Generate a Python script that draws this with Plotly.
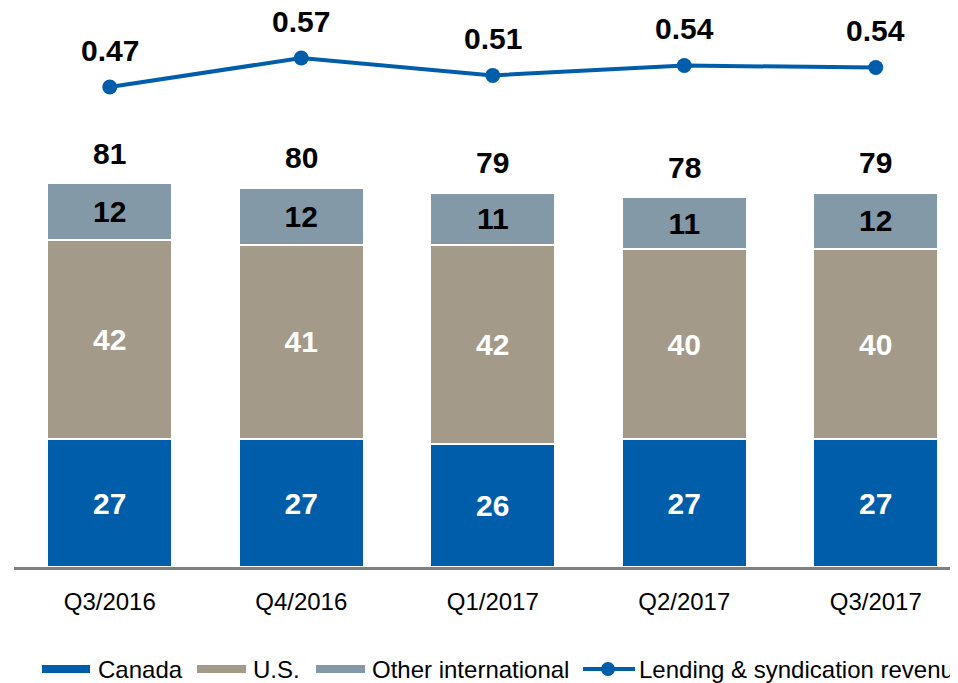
import plotly.graph_objects as go

categories = ["Q3/2016", "Q4/2016", "Q1/2017", "Q2/2017", "Q3/2017"]
canada = [27, 27, 26, 27, 27]
us = [42, 41, 42, 40, 40]
other_intl = [12, 12, 11, 11, 12]
totals = [81, 80, 79, 78, 79]
lending_rev = [0.47, 0.57, 0.51, 0.544, 0.537]

C_CAN = "#005DAA"
C_US = "#A39A89"
C_OTH = "#8499A7"
FONT = "Liberation Sans, Arial, sans-serif"

OFF = 8  # page body margin
W, H = 958 - OFF, 683 - OFF
ML, MR, MT, MB = 14 - OFF, 0, 0, 116
PW, PH = W - ML - MR, H - MT - MB
SPACING = 191.5
xr = [-0.5, -0.5 + PW / SPACING]
yr = [0, PH / 4.74]
y2_top = 0.57 + (58 - OFF) / 290
y2r = [y2_top - PH / 290, y2_top]

fig = go.Figure()

def bar(name, vals, color, tcolor):
    fig.add_trace(go.Bar(
        x=categories, y=vals, name=name,
        marker=dict(color=color, line=dict(color="white", width=2)),
        width=0.655,
        text=[str(v) for v in vals], textposition="inside",
        insidetextanchor="middle", constraintext="none",
        textfont=dict(family=FONT, size=30, color=tcolor, weight="bold"),
        showlegend=False,
    ))

bar("Canada", canada, C_CAN, "white")
bar("U.S.", us, C_US, "white")
bar("Other international", other_intl, C_OTH, "black")

fig.add_trace(go.Scatter(
    x=categories, y=lending_rev, yaxis="y2", mode="lines+markers",
    line=dict(color=C_CAN, width=4), marker=dict(color=C_CAN, size=15),
    name="Lending & syndication revenue", showlegend=False,
))

anns = []
for c, t in zip(categories, totals):
    anns.append(dict(x=c, y=t, xref="x", yref="y", text=f"<b>{t}</b>",
                     showarrow=False, yshift=30, yanchor="middle",
                     font=dict(family=FONT, size=30, color="black")))
for c, v in zip(categories, lending_rev):
    anns.append(dict(x=c, y=v, xref="x", yref="y2", text=f"<b>{v:.2f}</b>",
                     showarrow=False, yshift=37, yanchor="middle",
                     font=dict(family=FONT, size=30, color="black")))

# manual legend (reference pixel -> paper)
def px(x):
    return (x - OFF - ML) / PW

def py(y):
    return (H - MB - (y - OFF)) / PH

shapes = []
leg_y = 669
LEG_FS = 24
items = [("Canada", C_CAN, 42, 90, 96), ("U.S.", C_US, 197, 246, 251),
         ("Other international", C_OTH, 316, 365, 370)]
for name, col, x0, x1, tx in items:
    shapes.append(dict(type="rect", xref="paper", yref="paper",
                       x0=px(x0), x1=px(x1), y0=py(leg_y + 4), y1=py(leg_y - 4),
                       fillcolor=col, line=dict(width=0)))
    anns.append(dict(x=px(tx), y=py(leg_y), xref="paper", yref="paper", text=name,
                     showarrow=False, xanchor="left", yanchor="middle",
                     font=dict(family=FONT, size=LEG_FS, color="black")))
shapes.append(dict(type="line", xref="paper", yref="paper",
                   x0=px(583), x1=px(635), y0=py(leg_y), y1=py(leg_y),
                   line=dict(color=C_CAN, width=4)))
shapes.append(dict(type="circle", xref="paper", yref="paper",
                   x0=px(601), x1=px(615), y0=py(leg_y + 7), y1=py(leg_y - 7),
                   fillcolor=C_CAN, line=dict(width=0)))
anns.append(dict(x=px(637), y=py(leg_y), xref="paper", yref="paper",
                 text="Lending & syndication revenue", showarrow=False,
                 xanchor="left", yanchor="middle",
                 font=dict(family=FONT, size=LEG_FS, color="black")))

fig.update_layout(
    width=W, height=H, barmode="stack",
    margin=dict(l=ML, r=MR, t=MT, b=MB),
    plot_bgcolor="white", paper_bgcolor="white",
    showlegend=False,
    xaxis=dict(range=xr, showline=True, linecolor="#808080", linewidth=3,
               ticks="", showgrid=False, zeroline=False, ticklabelstandoff=11,
               tickfont=dict(family=FONT, size=24, color="black")),
    yaxis=dict(range=yr, visible=False, showgrid=False, zeroline=False),
    yaxis2=dict(range=y2r, overlaying="y", visible=False, showgrid=False,
                zeroline=False),
    annotations=anns, shapes=shapes,
)

fig.write_html("out.html")
